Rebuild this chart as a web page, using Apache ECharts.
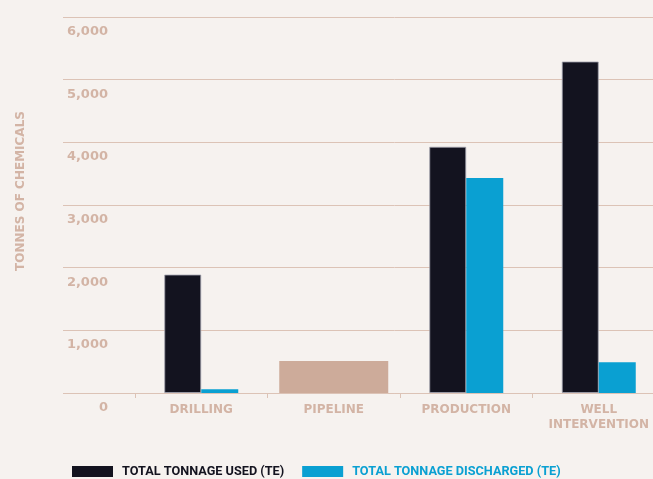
<!DOCTYPE html>
<html><head><meta charset="utf-8">
<script src="https://cdn.jsdelivr.net/npm/echarts@6/dist/echarts.min.js"></script>
<style>html,body{margin:0;padding:0;background:#f6f2ef}#c{width:653px;height:479px}</style>
</head><body><div id="c"></div>
<script>
const categories = ['DRILLING', 'PIPELINE', 'PRODUCTION', 'WELL\nINTERVENTION'];
const usedValues = [1890, null, 3930, 5290];
const dischargedValues = [60, null, 3430, 490];
const pipelineValues = [null, 510, null, null];
const seriesNames = ['TOTAL TONNAGE USED (TE)', 'TOTAL TONNAGE DISCHARGED (TE)', 'PIPELINE (TE)'];
const axisName = 'TONNES OF CHEMICALS';
const yMin = 0, yMax = 6000, yStep = 1000;

const tan = '#d3b4a5';
const gridCol = '#dcc3b6';
const dark = '#13131f';
const blue = '#0aa0d2';
const pipeCol = '#cdab9a';

const chart = echarts.init(document.getElementById('c'), null, {renderer: 'canvas'});
chart.setOption({
  animation: false,
  backgroundColor: '#f6f2ef',
  grid: [
    {left: 135, width: 530, top: 17, bottom: 86, outerBoundsMode: 'none', containLabel: false},
    {left: 63, width: 72, top: 17, bottom: 86, outerBoundsMode: 'none', containLabel: false}
  ],
  xAxis: [
    {gridIndex: 0, type: 'category', data: categories,
     axisLine: {lineStyle: {color: gridCol, width: 1}},
     axisTick: {show: true, interval: 0, length: 5, lineStyle: {color: gridCol}},
     axisLabel: {interval: 0, color: tan, fontFamily: 'DejaVu Sans', fontWeight: 'bold', fontSize: 12, margin: 9, lineHeight: 15}},
    {gridIndex: 0, type: 'category', data: categories, show: false},
    {gridIndex: 1, type: 'category', data: [''], show: false}
  ],
  yAxis: [
    {gridIndex: 0, type: 'value', min: yMin, max: yMax, interval: yStep,
     axisLabel: {show: false}, axisLine: {show: false}, axisTick: {show: false},
     splitLine: {lineStyle: {color: gridCol, width: 1}}},
    {gridIndex: 1, type: 'value', min: yMin, max: yMax, interval: yStep,
     axisLine: {show: false}, axisTick: {show: false},
     splitLine: {lineStyle: {color: gridCol, width: 1}},
     axisLabel: {inside: true, align: 'right', margin: 45, verticalAlign: 'top', padding: [8, 0, 0, 0],
       color: tan, fontFamily: 'DejaVu Sans', fontWeight: 'bold', fontSize: 13,
       formatter: v => v.toLocaleString('en-US')}}
  ],
  legend: {
    left: 72, top: 465, padding: 0, itemWidth: 41, itemHeight: 11, itemGap: 18, icon: 'rect',
    itemStyle: {borderWidth: 0},
    textStyle: {fontFamily: 'Roboto', fontWeight: 'bold', fontSize: 12.7, padding: [0, 0, 0, 4]},
    data: [
      {name: seriesNames[0], textStyle: {color: dark}},
      {name: seriesNames[1], textStyle: {color: blue}}
    ]
  },
  graphic: [{
    type: 'text', x: 21, y: 191, rotation: Math.PI / 2,
    style: {text: axisName, fill: tan, font: 'bold 12px "DejaVu Sans"', align: 'center', verticalAlign: 'middle'}
  }],
  series: [
    {name: seriesNames[0], type: 'bar', xAxisIndex: 0, yAxisIndex: 0, data: usedValues,
     barWidth: 37, barGap: '0%',
     itemStyle: {color: dark, borderColor: 'rgba(160,160,172,0.8)', borderWidth: 1}},
    {name: seriesNames[1], type: 'bar', xAxisIndex: 0, yAxisIndex: 0, data: dischargedValues,
     barWidth: 37, barGap: '0%',
     itemStyle: {color: blue}},
    {name: seriesNames[2], type: 'bar', xAxisIndex: 1, yAxisIndex: 0, data: pipelineValues,
     barWidth: 109, itemStyle: {color: pipeCol}}
  ]
});
</script></body></html>
